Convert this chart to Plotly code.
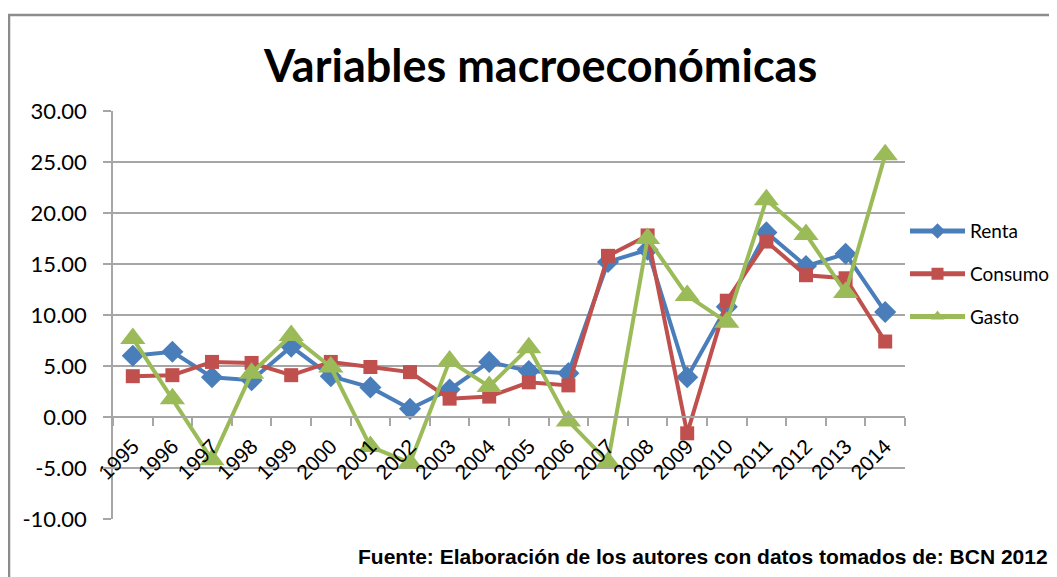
import plotly.graph_objects as go

years = [str(y) for y in range(1995, 2015)]
renta = [6.0, 6.4, 3.9, 3.6, 6.9, 4.0, 2.9, 0.8, 2.7, 5.4, 4.5, 4.3, 15.2, 16.4, 3.9, 10.8, 18.1, 14.8, 16.0, 10.3]
consumo = [4.0, 4.1, 5.4, 5.3, 4.1, 5.4, 4.9, 4.4, 1.8, 2.0, 3.4, 3.1, 15.8, 17.8, -1.6, 11.4, 17.2, 13.9, 13.6, 7.4]
gasto = [7.7, 1.8, -4.2, 4.3, 8.0, 4.9, -2.9, -4.5, 5.5, 3.0, 6.8, -0.4, -4.4, 17.5, 11.9, 9.3, 21.3, 17.9, 12.2, 25.7]
y_ticks = [-10, -5, 0, 5, 10, 15, 20, 25, 30]
y_ticktext = ["%.2f" % v for v in y_ticks]

title_text = "Variables macroeconómicas"
source_text = "Fuente: Elaboración de los autores con datos tomados de: BCN 2012"

fig = go.Figure()
fig.add_trace(go.Scatter(x=years, y=renta, name="Renta", mode="lines+markers", legendgroup="r",
                         line=dict(color="#4A7EBB", width=4),
                         marker=dict(symbol="diamond", size=17, color="#4A7EBB")))
fig.add_trace(go.Scatter(x=years, y=consumo, name="Consumo", mode="lines+markers", legendgroup="c",
                         line=dict(color="#C0504D", width=4),
                         marker=dict(symbol="square", size=14, color="#C0504D")))
fig.add_trace(go.Scatter(x=years, y=gasto, name="Gasto", mode="lines+markers", legendgroup="g",
                         line=dict(color="#9BBB59", width=4),
                         marker=dict(symbol="triangle-up", size=22, color="#9BBB59")))

grid = "#A6A6A6"
# page body has an 8px margin, so the figure is 8px smaller and offset
fig.update_layout(
    width=1049, height=569,
    margin=dict(l=105, r=152, t=103, b=58, pad=0, autoexpand=False),
    paper_bgcolor="white", plot_bgcolor="white",
    font=dict(family="Lato", color="black"),
    showlegend=True,
    legend=dict(x=1.0, xanchor="left", y=0.60, yanchor="middle",
                font=dict(size=19, family="Lato"), tracegroupgap=15,
                itemwidth=55, itemsizing="constant", bgcolor="rgba(0,0,0,0)"),
    xaxis=dict(type="category", tickson="boundaries", ticks="outside", ticklen=8,
               tickcolor=grid, tickwidth=1.5, showline=True, linecolor=grid, linewidth=1.5,
               showgrid=False, tickangle=-45, anchor="free", position=0.25,
               ticklabelstandoff=8,
               tickfont=dict(size=21, family="Liberation Sans"), range=[-0.5, 19.5]),
    yaxis=dict(range=[-10, 30], tickvals=y_ticks, ticktext=y_ticktext, ticks="outside",
               ticklen=8, tickcolor=grid, tickwidth=1.5, showline=True, linecolor=grid,
               linewidth=1.5, showgrid=True, gridcolor=grid, gridwidth=1.5, zeroline=False,
               ticklabelstandoff=12,
               tickfont=dict(size=22, family="Lato")),
    annotations=[
        dict(text="<b>" + title_text + "</b>", x=0.539, y=1.113, xref="paper", yref="paper",
             showarrow=False, font=dict(size=45, family="Lato"), xanchor="center", yanchor="middle"),
        dict(text="<b>" + source_text + "</b>", x=(1050 - 113) / 792, y=(519 - 556) / 408,
             xref="paper", yref="paper", showarrow=False, xanchor="right", yanchor="middle",
             font=dict(size=21, family="Liberation Sans")),
    ],
    shapes=[
        dict(type="rect", xref="paper", yref="paper", x0=(9 - 113) / 792, x1=1.4,
             y0=-0.5, y1=(519 - 15) / 408, line=dict(color="#8C8C8C", width=2.5), layer="below"),
    ],
)

fig.write_html("out.html")
